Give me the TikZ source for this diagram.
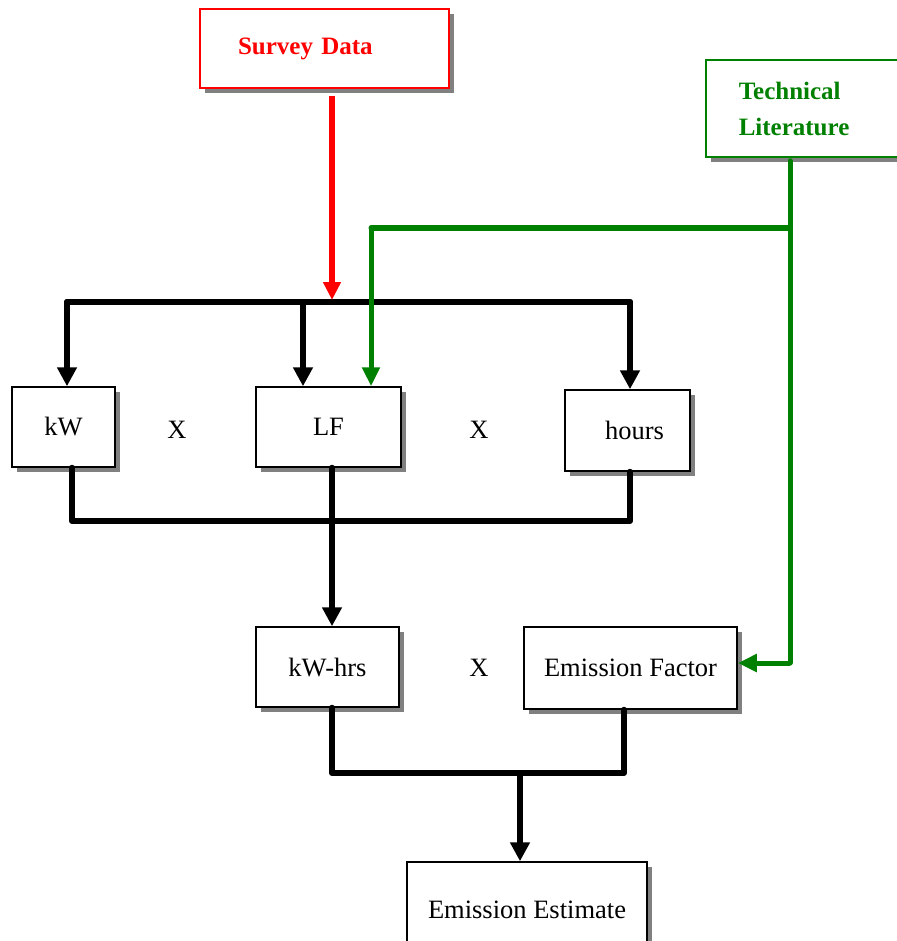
\documentclass[tikz,border=0pt]{standalone}
\usepackage{fontspec}
\setmainfont{Liberation Serif}
\usetikzlibrary{arrows.meta,shadows,calc}
\definecolor{tgreen}{RGB}{0,128,0}
\definecolor{sred}{RGB}{255,0,0}
\begin{document}
\begin{tikzpicture}[x=1pt,y=-1pt,
  every node/.style={font=\fontsize{26.5}{33}\selectfont},
  box/.style={draw=black,line width=1.5pt,fill=white,rectangle,inner sep=0pt,
    drop shadow={shadow xshift=5pt,shadow yshift=-5pt,fill=black!50,opacity=1}},
  bus/.style={line width=6pt,black,line cap=round,line join=round},
  barrow/.style={bus,-{Triangle[length=19pt,width=19pt]}},
  garrow/.style={line width=5pt,tgreen,line join=round,-{Triangle[length=19pt,width=17pt]}},
  gline/.style={line width=5pt,tgreen,line cap=round,line join=round},
  rarrow/.style={line width=5.5pt,sred,-{Triangle[length=18pt,width=17pt]}},
  lbl/.style={inner sep=0pt}]
\useasboundingbox (0,0) rectangle (896,941);
% boxes
\node[box,draw=sred,text=sred,font=\bfseries\fontsize{25}{36}\selectfont,minimum width=249pt,minimum height=79pt,
  text width=173pt,inner xsep=38pt,align=left] (survey) at (324.5,48.5) {\raisebox{-3pt}{Survey Data}};
\node[box,draw=tgreen,text=tgreen,font=\bfseries\fontsize{25}{36}\selectfont,minimum height=97pt,
  text width=134pt,inner xsep=33pt,align=left,anchor=west] (tech) at (705,108.5) {Technical\\Literature};
\node[box,minimum width=103pt,minimum height=80pt] (kW) at (63.5,427) {kW};
\node[box,minimum width=145pt,minimum height=80pt] (LF) at (328.5,427) {LF};
\node[box,minimum width=125pt,minimum height=81pt] (hours) at (627.5,430.5) {\hspace*{14pt}hours};
\node[box,minimum width=143pt,minimum height=80pt] (kWhrs) at (327.5,667) {kW-hrs};
\node[box,minimum width=213pt,minimum height=82pt] (EF) at (630.5,668) {Emission Factor};
\node[box,minimum width=240pt,minimum height=96pt,text depth=0pt] (EE) at (527,910) {Emission Estimate\vphantom{p}};
\node[lbl] (x1) at (177,430) {X};
\node[lbl] (x2) at (479,430) {X};
\node[lbl] (x3) at (479,668) {X};
% coordinates
\coordinate (j1) at (67,302);
\coordinate (j2) at (303,302);
\coordinate (jr) at (332,302);
\coordinate (j3) at (630,302);
\coordinate (gj) at (790,228);
\coordinate (gl) at (371,228);
\coordinate (ge) at (790,663);
\coordinate (b1) at (72,521);
\coordinate (b2) at (332,521);
\coordinate (b3) at (630,521);
\coordinate (c1) at (332,773);
\coordinate (c2) at (520,773);
\coordinate (c3) at (624,773);
% top bus
\draw[bus] (j1) -- (j3);
\draw[barrow] (j1) -- (j1 |- kW.north);
\draw[barrow] (j2) -- (j2 |- LF.north);
\draw[barrow] (j3) -- (j3 |- hours.north);
% red
\draw[rarrow,shorten <=7pt] (survey.south -| jr) -- ([yshift=2pt]jr);
% green
\draw[gline,shorten <=3pt] (tech.south -| gj) -- (gj) -- (gl);
\draw[garrow] (gl) -- (gl |- LF.north);
\draw[gline] (gj) -- (ge);
\draw[garrow] (ge) -- (ge -| EF.east);
% bottom bus
\draw[bus] (b1 |- kW.south) -- (b1) -- (b3) -- (b3 |- hours.south);
\draw[barrow] (b2 |- LF.south) -- (b2 |- kWhrs.north);
% lower bus
\draw[bus] (c1 |- kWhrs.south) -- (c1) -- (c3) -- (c3 |- EF.south);
\draw[barrow] (c2) -- (c2 |- EE.north);
\end{tikzpicture}
\end{document}
